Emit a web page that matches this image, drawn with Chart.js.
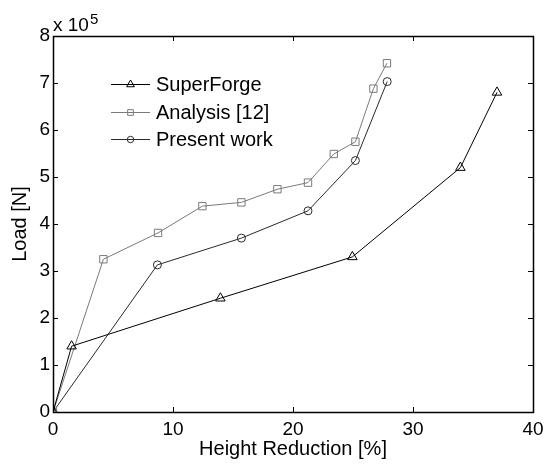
<!DOCTYPE html>
<html>
<head>
<meta charset="utf-8">
<script src="https://cdn.jsdelivr.net/npm/chart.js@4.4.1/dist/chart.umd.min.js"></script>
<style>
    html, body { margin: 0; padding: 0; background: #fff; }
    #wrap { width: 554px; height: 468px; }
</style>
</head>
<body>
<div id="wrap"><canvas id="loadChart" width="554" height="468"></canvas></div>
<script>
// Height reduction [%] and load [x 10^5 N]
const superForgeX = [0, 1.55, 13.95, 24.95, 33.95, 37.0];
const superForgeY = [0, 1.40, 2.42, 3.30, 5.20, 6.80];

const analysisX = [0, 4.2, 8.75, 12.45, 15.7, 18.7, 21.25, 23.4, 25.2, 26.7, 27.83];
const analysisY = [0, 3.25, 3.81, 4.38, 4.46, 4.74, 4.88, 5.49, 5.75, 6.88, 7.42];

const presentX = [0, 8.7, 15.7, 21.25, 25.2, 27.85];
const presentY = [0, 3.13, 3.70, 4.28, 5.35, 7.03];

const xTicks = [0, 10, 20, 30, 40];
const yTicks = [0, 1, 2, 3, 4, 5, 6, 7, 8];

const FONT = '"Liberation Sans", Arial, sans-serif';

function toPoints(xs, ys) {
    return xs.map((x, i) => ({ x: x, y: ys[i] }));
}

// MATLAB style box, inward ticks, exponent label and legend
const framePlugin = {
    id: 'frame',
    afterDatasetsDraw(chart) {
        const ctx = chart.ctx;
        const a = chart.chartArea;
        const xs = chart.scales.x;
        const ys = chart.scales.y;
        ctx.save();
        ctx.strokeStyle = '#000';
        ctx.lineWidth = 1;
        ctx.beginPath();
        xTicks.forEach(v => {
            const px = Math.round(xs.getPixelForValue(v)) + 0.5;
            ctx.moveTo(px, a.bottom); ctx.lineTo(px, a.bottom - 5);
            ctx.moveTo(px, a.top); ctx.lineTo(px, a.top + 5);
        });
        yTicks.forEach(v => {
            const py = Math.round(ys.getPixelForValue(v)) + 0.5;
            ctx.moveTo(a.left, py); ctx.lineTo(a.left + 5, py);
            ctx.moveTo(a.right, py); ctx.lineTo(a.right - 5, py);
        });
        ctx.stroke();
        ctx.lineWidth = 1.5;
        ctx.strokeRect(Math.round(a.left) + 0.5, Math.round(a.top) + 0.5,
            Math.round(a.right - a.left), Math.round(a.bottom - a.top));

        // exponent
        ctx.fillStyle = '#000';
        ctx.textBaseline = 'alphabetic';
        ctx.textAlign = 'left';
        ctx.font = '19px ' + FONT;
        ctx.fillText('x 10', a.left, a.top - 5);
        ctx.font = '15px ' + FONT;
        ctx.fillText('5', a.left + 37, a.top - 12);

        // legend
        const rows = [84, 112, 139];
        const legendR = [4.5, 4, 3.2];
        chart.data.datasets.forEach((ds, i) => {
            const y = rows[i] + 0.5;
            ctx.lineWidth = 1;
            ctx.strokeStyle = ds.borderColor;
            ctx.beginPath();
            ctx.moveTo(111, y); ctx.lineTo(150, y);
            ctx.stroke();
            ctx.fillStyle = 'rgba(0,0,0,0)';
            Chart.helpers.drawPoint(ctx, {
                pointStyle: ds.pointStyle,
                radius: legendR[i],
                borderWidth: 1
            }, 130.5, y);
            ctx.fillStyle = '#000';
            ctx.font = '20px ' + FONT;
            ctx.textBaseline = 'middle';
            ctx.fillText(ds.label, 156, y + 1);
        });
        ctx.restore();
    }
};

function makeSet(label, xs, ys, color, style, r) {
    return {
        label: label,
        data: toPoints(xs, ys),
        showLine: true,
        borderColor: color,
        borderWidth: 1,
        backgroundColor: 'rgba(0,0,0,0)',
        pointStyle: style,
        pointRadius: r,
        pointHoverRadius: r,
        pointBorderColor: color,
        pointBorderWidth: 1,
        pointBackgroundColor: 'rgba(0,0,0,0)',
        tension: 0
    };
}

new Chart(document.getElementById('loadChart'), {
    type: 'scatter',
    data: {
        datasets: [
            makeSet('SuperForge', superForgeX, superForgeY, '#000', 'triangle', 5.5),
            makeSet('Analysis [12]', analysisX, analysisY, '#7a7a7a', 'rect', 5.2),
            makeSet('Present work', presentX, presentY, '#2a2a2a', 'circle', 4)
        ]
    },
    options: {
        responsive: false,
        animation: false,
        devicePixelRatio: 1,
        layout: { padding: { top: 36, right: 21, left: 0, bottom: 0 } },
        plugins: {
            legend: { display: false },
            tooltip: { enabled: false }
        },
        scales: {
            x: {
                type: 'linear',
                min: 0,
                max: 40,
                afterBuildTicks: s => { s.ticks = xTicks.map(v => ({ value: v })); },
                afterFit: s => { s.height = 56; },
                grid: { display: false, drawTicks: false },
                border: { display: false },
                ticks: { color: '#000', font: { family: FONT, size: 19 }, padding: 6, maxRotation: 0 },
                title: {
                    display: true,
                    text: 'Height Reduction [%]',
                    color: '#000',
                    font: { family: FONT, size: 20 },
                    padding: { top: 0, bottom: 7 }
                }
            },
            y: {
                type: 'linear',
                min: 0,
                max: 8,
                afterBuildTicks: s => { s.ticks = yTicks.map(v => ({ value: v })); },
                afterFit: s => { s.width = 53; },
                grid: { display: false, drawTicks: false },
                border: { display: false },
                ticks: { color: '#000', font: { family: FONT, size: 19 }, padding: 3 },
                title: {
                    display: true,
                    text: 'Load [N]',
                    color: '#000',
                    font: { family: FONT, size: 20 },
                    padding: { top: 8, bottom: 0 }
                }
            }
        }
    },
    plugins: [framePlugin]
});
</script>
</body>
</html>
